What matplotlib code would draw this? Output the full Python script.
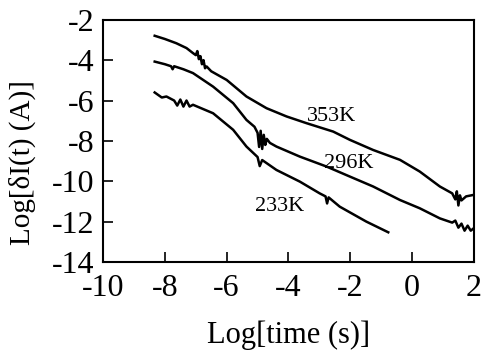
import numpy as np
import matplotlib.pyplot as plt

plt.rcParams['font.family'] = 'serif'
plt.rcParams['font.serif'] = ['Liberation Serif', 'DejaVu Serif']
plt.rcParams['mathtext.fontset'] = 'stix'
plt.rcParams['axes.unicode_minus'] = False

# values (log10 time, log10 current)
x_353 = [-8.33, -8.0, -7.63, -7.3, -7.09, -7.0, -6.95, -6.9, -6.85, -6.8, -6.75, -6.7, -6.65,
         -6.5, -6.0, -5.36, -4.71, -4.06, -3.42, -2.55, -2.01, -1.26, -0.39, 0.25, 0.9,
         1.3, 1.4, 1.45, 1.5, 1.55, 1.6, 1.75, 1.98]
y_353 = [-2.79, -2.95, -3.16, -3.4, -3.65, -3.75, -3.55, -3.95, -3.8, -4.2, -4.0, -4.4, -4.31,
         -4.55, -4.98, -5.8, -6.38, -6.79, -7.12, -7.54, -7.95, -8.45, -8.94, -9.52, -10.26,
         -10.6, -10.9, -10.5, -11.2, -10.7, -10.95, -10.75, -10.68]

x_296 = [-8.33, -8.0, -7.8, -7.75, -7.7, -7.4, -7.09, -6.44, -5.79, -5.36, -5.1, -5.0, -4.95,
         -4.9, -4.85, -4.8, -4.75, -4.7, -4.6, -4.39, -3.63, -2.77, -2.01, -1.26, -0.39, 0.25,
         0.9, 1.3, 1.4, 1.5, 1.6, 1.7, 1.8, 1.9, 1.98]
y_296 = [-4.07, -4.2, -4.3, -4.45, -4.3, -4.45, -4.64, -5.31, -6.13, -6.96, -7.3, -7.6, -8.3,
         -7.5, -8.4, -7.7, -8.2, -7.9, -8.1, -8.28, -8.78, -9.27, -9.77, -10.26, -10.93, -11.34,
         -11.84, -12.05, -11.95, -12.3, -12.1, -12.45, -12.2, -12.45, -12.35]

x_233 = [-8.33, -8.1, -7.95, -7.7, -7.6, -7.5, -7.4, -7.3, -7.2, -7.09, -6.44, -5.79, -5.36,
         -5.0, -4.93, -4.85, -4.39, -3.63, -2.99, -2.8, -2.75, -2.7, -2.34, -1.48, -0.77]
y_233 = [-5.6, -5.85, -5.8, -6.0, -6.25, -5.95, -6.3, -6.0, -6.3, -6.21, -6.63, -7.45, -8.28,
         -8.8, -9.25, -8.95, -9.44, -10.02, -10.6, -10.75, -11.1, -10.8, -11.26, -12.0, -12.53]

labels = ['353K', '296K', '233K']
label_xy = [(-2.6, -6.8), (-2.05, -9.1), (-4.3, -11.25)]


fig = plt.figure(figsize=(4.84, 3.54), dpi=100, facecolor='w')
ax = fig.add_axes([0.213, 0.26, 0.766, 0.684])

for xs, ys in [(x_353, y_353), (x_296, y_296), (x_233, y_233)]:
    ax.plot(xs, ys, color='black', lw=1.8)

for lab, (lx, ly) in zip(labels, label_xy):
    ax.text(lx, ly, lab, fontsize=16, ha='center', va='center')

ax.set_xlim(-10, 2)
ax.set_ylim(-14, -2)
ax.set_xticks(np.arange(-10, 3, 2))
ax.set_yticks(np.arange(-14, -1, 2))
ax.tick_params(axis='both', direction='in', length=7, width=1.2, labelsize=23,
               top=False, right=False)
ax.tick_params(axis='x', pad=9)
ax.tick_params(axis='y', pad=6)
for s in ax.spines.values():
    s.set_linewidth(1.5)

ax.set_xlabel('Log[time (s)]', fontsize=22, labelpad=12)
ax.set_ylabel('Log[δI(t) (A)]', fontsize=21)
ax.yaxis.set_label_coords(-0.18, 0.41)

plt.savefig('out.png', dpi=100)
